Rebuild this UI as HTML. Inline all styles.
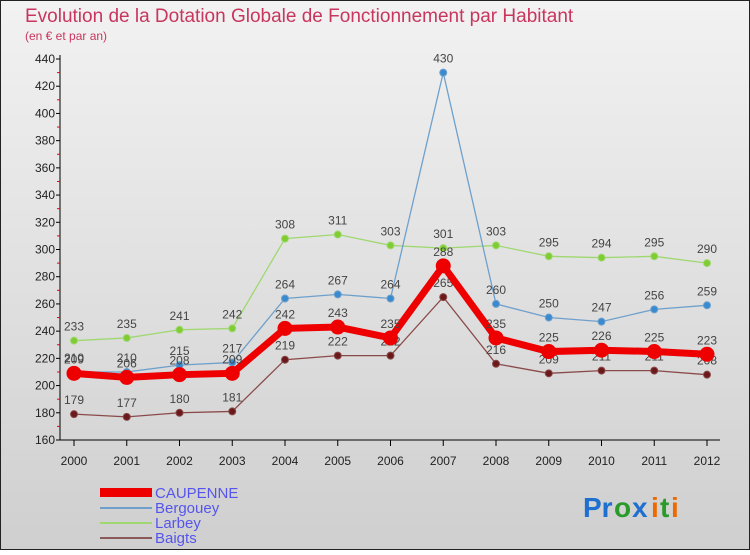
<!DOCTYPE html>
<html><head><meta charset="utf-8"><style>
body{margin:0;width:750px;height:550px;overflow:hidden;font-family:"Liberation Sans",sans-serif}
svg text{font-family:"Liberation Sans",sans-serif}
</style></head><body>
<svg width="750" height="550">
<defs><linearGradient id="bg" x1="0" y1="0" x2="0" y2="1"><stop offset="0" stop-color="#f2f2f2"/><stop offset="1" stop-color="#cfcfcf"/></linearGradient></defs>
<rect x="0.5" y="0.5" width="749" height="549" fill="url(#bg)" stroke="#222"/>
<text x="25" y="22" font-size="19" fill="#c8365e">Evolution de la Dotation Globale de Fonctionnement par Habitant</text>
<text x="25" y="40" font-size="12" fill="#c8365e">(en € et par an)</text>
<g id="axes"></g><g id="series"></g>
<g>
<rect x="100" y="488" width="52" height="9" fill="#ee0000"/>
<text x="155" y="498" font-size="15" fill="#5555ee">CAUPENNE</text>
<rect x="100" y="507" width="52" height="2" fill="#6fa0cc"/>
<text x="155" y="513" font-size="15" fill="#5555ee">Bergouey</text>
<rect x="100" y="522" width="52" height="2" fill="#9fd870"/>
<text x="155" y="528" font-size="15" fill="#5555ee">Larbey</text>
<rect x="100" y="537" width="52" height="2" fill="#8a5a5a"/>
<text x="155" y="543" font-size="15" fill="#5555ee">Baigts</text>
</g>
<g font-size="28" font-weight="bold">
<text x="583" y="517" fill="#1e6fcf">Pr</text><text x="614" y="517" fill="#2a9a2a">o</text><text x="632" y="517" fill="#1e6fcf">x</text><text x="651" y="517" fill="#ee6a00">i</text><text x="660" y="517" fill="#2a9a2a">t</text><text x="671" y="517" fill="#ee6a00">i</text>
</g>
</svg>
<script>
const years=["2000","2001","2002","2003","2004","2005","2006","2007","2008","2009","2010","2011","2012"];
const yTicks=[160,180,200,220,240,260,280,300,320,340,360,380,400,420,440];
const caupenne=[209,206,208,209,242,243,235,288,235,225,226,225,223];
const bergouey=[210,210,215,217,264,267,264,430,260,250,247,256,259];
const larbey=[233,235,241,242,308,311,303,301,303,295,294,295,290];
const baigts=[179,177,180,181,219,222,222,265,216,209,211,211,208];
const NS="http://www.w3.org/2000/svg";
const X=i=>74+i*52.75, Y=v=>440-(v-160)*1.3607;
function mk(t,a,p){const e=document.createElementNS(NS,t);for(const k in a)e.setAttribute(k,a[k]);p.appendChild(e);return e;}
const ax=document.getElementById('axes');
let l=mk('line',{x1:60,y1:55,x2:60,y2:440,stroke:'#000'},ax);


l=mk('line',{x1:60,y1:440,x2:720,y2:440,stroke:'#000'},ax);


yTicks.forEach((v,i)=>{
 mk('line',{x1:56,y1:Y(v),x2:60,y2:Y(v),stroke:'#000'},ax);
 if(i<yTicks.length-1) mk('line',{x1:57,y1:Y(v+10),x2:60,y2:Y(v+10),stroke:'#e00'},ax);
 const t=mk('text',{x:55,y:Y(v)+4,'font-size':12,'text-anchor':'end',fill:'#222'},ax);t.textContent=v;
 
 
});
years.forEach((y,i)=>{
 mk('line',{x1:X(i),y1:440,x2:X(i),y2:446,stroke:'#000'},ax);
 const t=mk('text',{x:X(i),y:465,'font-size':12,'text-anchor':'middle',fill:'#222'},ax);t.textContent=y;
 
 
});
const sg=document.getElementById('series');
function draw(name,d,col,dot,w,r){
 const g=mk('g',{},sg);
 
 
 const p=mk('polyline',{points:d.map((v,i)=>X(i)+','+Y(v)).join(' '),fill:'none',stroke:col,'stroke-width':w},g);
 
 
 d.forEach((v,i)=>{
  const c=mk('circle',{cx:X(i),cy:Y(v),r:r,fill:dot,stroke:col,'stroke-width':1},g);
  
  
  const t=mk('text',{x:X(i),y:Y(v)-10,'font-size':12,'text-anchor':'middle',fill:'#444'},g);t.textContent=v;
  
  
 });
}
draw('larbey',larbey,'#9fd870','#7fcc33',1.3,3.5);
draw('baigts',baigts,'#8a4a4a','#6a1a1a',1.3,3.5);
draw('bergouey',bergouey,'#6fa0cc','#3a8ad0',1.3,3.5);
draw('caupenne',caupenne,'#ee0000','#ee0000',7,7);
</script>
</body></html>
